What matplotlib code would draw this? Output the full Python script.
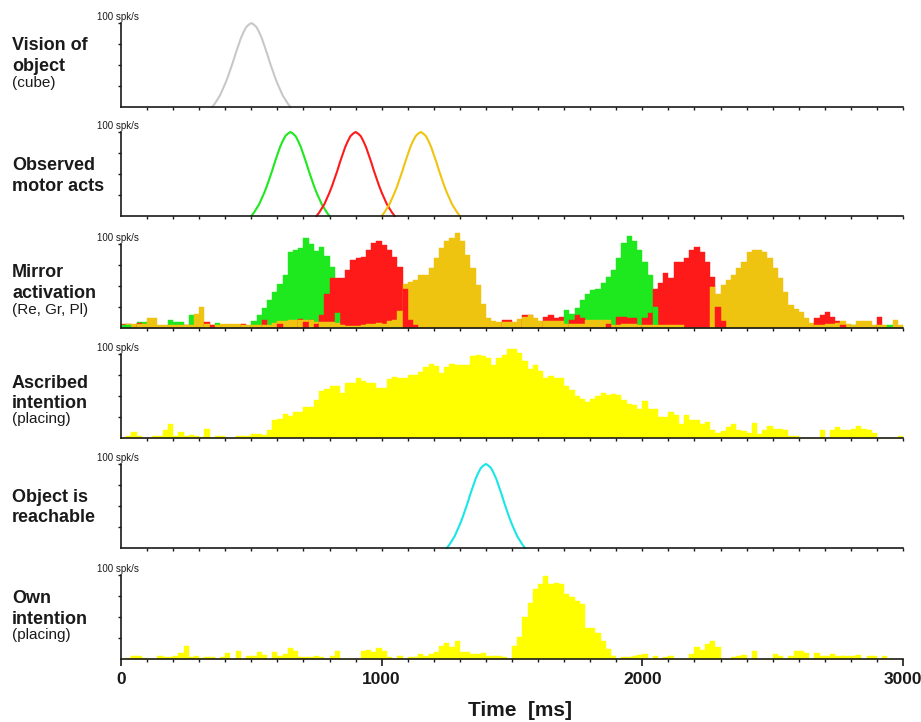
import numpy as np
import matplotlib
matplotlib.use('Agg')
import matplotlib.pyplot as plt

plt.rcParams['font.family'] = ['Liberation Sans', 'DejaVu Sans']

# firing-rate histograms, 20 ms bins over 0-3000 ms (spk/s)
BIN_MS = 20

MIRROR_GREEN = [
    3, 3, 0, 7, 7, 0, 0, 0, 0, 10,
    7, 7, 0, 15, 0, 0, 0, 0, 6, 0,
    0, 0, 0, 0, 0, 8, 15, 24, 33, 43,
    52, 63, 90, 93, 95, 107, 100, 92, 97, 86,
    73, 18, 0, 0, 0, 0, 0, 0, 0, 0,
    0, 0, 0, 0, 0, 0, 0, 0, 0, 0,
    0, 0, 0, 0, 0, 0, 0, 0, 0, 0,
    0, 0, 0, 0, 0, 0, 0, 0, 0, 0,
    0, 0, 0, 0, 0, 21, 17, 24, 33, 41,
    45, 47, 53, 61, 69, 83, 101, 109, 103, 93,
    79, 63, 25, 0, 0, 0, 0, 0, 0, 0,
    0, 0, 0, 0, 0, 0, 0, 0, 0, 0,
    0, 0, 0, 0, 0, 0, 0, 0, 0, 0,
    0, 0, 0, 0, 0, 0, 0, 0, 0, 0,
    3, 0, 0, 0, 0, 0, 0, 3, 0, 0,
]
MIRROR_RED = [
    5, 5, 0, 6, 0, 0, 0, 0, 0, 0,
    0, 0, 4, 0, 0, 0, 7, 3, 0, 0,
    0, 0, 0, 5, 0, 0, 0, 9, 0, 0,
    5, 0, 0, 0, 11, 7, 10, 5, 15, 40,
    59, 59, 60, 69, 81, 83, 85, 93, 101, 103,
    99, 93, 85, 73, 47, 10, 4, 0, 0, 0,
    0, 0, 0, 0, 0, 0, 0, 0, 0, 0,
    0, 0, 0, 9, 9, 0, 0, 15, 15, 0,
    0, 13, 15, 12, 13, 0, 10, 15, 12, 0,
    0, 0, 0, 5, 0, 13, 13, 12, 12, 0,
    12, 18, 47, 53, 65, 59, 79, 79, 83, 93,
    97, 91, 79, 61, 25, 8, 0, 0, 0, 0,
    0, 0, 0, 0, 0, 0, 0, 0, 0, 0,
    0, 0, 0, 12, 15, 19, 13, 8, 3, 0,
    0, 0, 0, 0, 0, 13, 0, 0, 0, 0,
]
MIRROR_ORANGE = [
    4, 5, 5, 5, 5, 12, 12, 4, 4, 3,
    3, 3, 3, 3, 17, 25, 5, 4, 4, 5,
    5, 5, 5, 3, 3, 3, 3, 4, 4, 6,
    8, 8, 9, 9, 9, 9, 9, 7, 7, 7,
    7, 6, 3, 2, 2, 2, 3, 5, 5, 6,
    5, 8, 10, 20, 52, 55, 57, 63, 63, 71,
    83, 95, 103, 107, 113, 103, 87, 71, 51, 29,
    12, 8, 7, 7, 7, 7, 11, 13, 15, 12,
    8, 8, 8, 8, 8, 5, 5, 5, 5, 9,
    9, 9, 9, 9, 3, 3, 5, 5, 5, 3,
    3, 3, 4, 4, 4, 3, 3, 3, 0, 0,
    0, 0, 0, 49, 41, 51, 57, 63, 71, 79,
    91, 93, 93, 91, 83, 71, 59, 43, 27, 23,
    19, 12, 6, 3, 3, 5, 5, 6, 8, 5,
    3, 8, 8, 8, 3, 4, 4, 0, 10, 3,
]
ASCRIBED = [
    0, 2, 7, 2, 0, 0, 2, 2, 10, 17,
    2, 7, 2, 3, 2, 1, 11, 0, 2, 2,
    0, 0, 2, 2, 2, 5, 5, 4, 10, 22,
    23, 29, 26, 31, 31, 37, 37, 45, 56, 58,
    62, 62, 54, 65, 66, 71, 68, 65, 65, 60,
    60, 70, 73, 72, 72, 75, 75, 78, 85, 88,
    86, 77, 85, 88, 87, 87, 87, 98, 99, 98,
    95, 87, 95, 99, 106, 106, 101, 92, 82, 87,
    80, 71, 74, 72, 71, 62, 57, 50, 46, 43,
    47, 50, 54, 51, 52, 51, 45, 41, 39, 35,
    44, 35, 35, 25, 25, 31, 27, 17, 27, 22,
    21, 17, 19, 10, 6, 8, 13, 17, 10, 8,
    6, 18, 5, 10, 14, 11, 11, 9, 2, 2,
    0, 0, 0, 0, 9, 0, 9, 13, 10, 10,
    11, 14, 11, 10, 6, 0, 0, 0, 0, 2,
]
OWN = [
    0, 1, 3, 4, 1, 0, 0, 4, 2, 2,
    4, 7, 16, 2, 4, 1, 2, 2, 0, 2,
    7, 0, 10, 0, 3, 3, 8, 5, 0, 8,
    3, 6, 13, 9, 2, 2, 2, 3, 2, 0,
    4, 9, 0, 0, 0, 0, 10, 11, 8, 13,
    10, 2, 0, 4, 0, 2, 2, 6, 4, 6,
    8, 16, 19, 14, 21, 8, 8, 6, 6, 7,
    4, 3, 3, 2, 0, 15, 26, 50, 67, 83,
    89, 99, 89, 90, 89, 77, 74, 69, 66, 37,
    37, 31, 21, 12, 4, 0, 2, 2, 3, 5,
    6, 0, 3, 0, 2, 4, 0, 0, 0, 6,
    14, 11, 18, 21, 14, 0, 0, 2, 3, 5,
    0, 9, 0, 0, 0, 6, 4, 0, 3, 9,
    10, 7, 0, 7, 3, 4, 6, 3, 3, 3,
    4, 5, 0, 3, 3, 0, 3, 0, 0, 0,
]

# idealised tuning curves: offsets (ms) from the centre and rate (spk/s)
BELL_OFFSETS = [-150, -140, -130, -120, -110, -100, -90, -80, -70, -60, -50,
                -40, -30, -20, -10, 0, 10, 20, 30, 40, 50, 60, 70, 80, 90,
                100, 110, 120, 130, 140, 150]
BELL_RATE = [0, 4, 9, 14, 21, 28, 36, 45, 54, 64, 73, 82, 89, 95, 98, 100,
             98, 95, 89, 82, 73, 64, 54, 45, 36, 28, 21, 14, 9, 4, 0]
VISION_CENTRES = [500]
MOTOR_CENTRES = [650, 900, 1150]
REACH_CENTRES = [1400]

GREY = '#c8c8c8'
GREEN = '#1ee81e'
RED = '#ff1a1a'
GOLD = '#efc411'
YELLOW = '#ffff00'
CYAN = '#19e6e6'
INK = '#1a1a1a'

LABELS = [
    [('Vision of', 50, True), ('object', 71, True), ('(cube)', 87, False)],
    [('Observed', 170, True), ('motor acts', 191, True)],
    [('Mirror', 277, True), ('activation', 298, True), ('(Re, Gr, Pl)', 314, False)],
    [('Ascribed', 388, True), ('intention', 408, True), ('(placing)', 423, False)],
    [('Object is', 502, True), ('reachable', 522, True)],
    [('Own', 603, True), ('intention', 624, True), ('(placing)', 639, False)],
]

W, H = 921, 722
fig = plt.figure(figsize=(W / 100, H / 100), dpi=100)

panel_bottoms = [107, 216, 328, 438, 548, 659]
axes = []
for bottom in panel_bottoms:
    ax = fig.add_axes([121 / W, 1 - bottom / H, 782 / W, 84 / H])
    axes.append(ax)

edges = np.arange(len(ASCRIBED)) * BIN_MS
offsets = np.array(BELL_OFFSETS)


def style_panel(ax, last=False):
    ax.set_xlim(0, 3000)
    ax.set_ylim(0, 100)
    ax.set_facecolor('none')
    for side in ('top', 'right'):
        ax.spines[side].set_visible(False)
    for side in ('left', 'bottom'):
        ax.spines[side].set_linewidth(1.2)
        ax.spines[side].set_color(INK)
    ax.set_yticks([25, 50, 75, 100])
    ax.set_yticklabels([])
    ax.tick_params(axis='y', length=2.5, width=1, color=INK, direction='out')
    ax.set_xticks(np.arange(100, 3001, 100), minor=True)
    ax.tick_params(axis='x', which='minor', length=2.5, width=1, color=INK)
    if last:
        ax.set_xticks([0, 1000, 2000, 3000])
        ax.set_xticklabels(['0', '1000', '2000', '3000'], fontsize=12.5,
                           fontweight='bold', color=INK)
        ax.tick_params(axis='x', which='major', length=5, width=1.2,
                       color=INK, pad=4)
    else:
        ax.set_xticks([])
    ax.annotate('100 spk/s', xy=(0, 100), xytext=(-24, 3),
                textcoords='offset pixels', ha='left', va='baseline',
                fontsize=7, color=INK,
                family=['Liberation Sans Narrow', 'Liberation Sans'])


def draw_bells(ax, centres, colors):
    for c, col in zip(centres, colors):
        ax.plot(c + offsets, BELL_RATE, color=col, lw=1.5, clip_on=False)


# vision of object
draw_bells(axes[0], VISION_CENTRES, [GREY])
# observed motor acts
draw_bells(axes[1], MOTOR_CENTRES, [GREEN, RED, GOLD])

# mirror activation: in every bin the highest rate sits behind the others
rates = np.vstack([MIRROR_GREEN, MIRROR_RED, MIRROR_ORANGE])
mirror_colors = np.array([GREEN, RED, GOLD])
order = np.argsort(-rates, axis=0, kind='stable')
cols = np.arange(rates.shape[1])
for rank in range(3):
    idx = order[rank]
    axes[2].bar(edges, rates[idx, cols], width=BIN_MS, align='edge',
                color=mirror_colors[idx], edgecolor=mirror_colors[idx],
                linewidth=0.3, clip_on=False)

# ascribed intention
axes[3].bar(edges, ASCRIBED, width=BIN_MS, align='edge', color=YELLOW,
            edgecolor=YELLOW, linewidth=0.3, clip_on=False)
# object is reachable
draw_bells(axes[4], REACH_CENTRES, [CYAN])
# own intention
axes[5].bar(edges, OWN, width=BIN_MS, align='edge', color=YELLOW,
            edgecolor=YELLOW, linewidth=0.3, clip_on=False)

for i, ax in enumerate(axes):
    style_panel(ax, last=(i == len(axes) - 1))

for lines in LABELS:
    for text, y, bold in lines:
        fig.text(12 / W, 1 - y / H, text, ha='left', va='baseline',
                 fontsize=13 if bold else 11,
                 fontweight='bold' if bold else 'normal', color=INK)

fig.text(520 / W, 1 - 711 / H, 'Time  [ms]', ha='center', va='center',
         fontsize=15, fontweight='bold', color=INK)

fig.savefig('out.png', dpi=100)
